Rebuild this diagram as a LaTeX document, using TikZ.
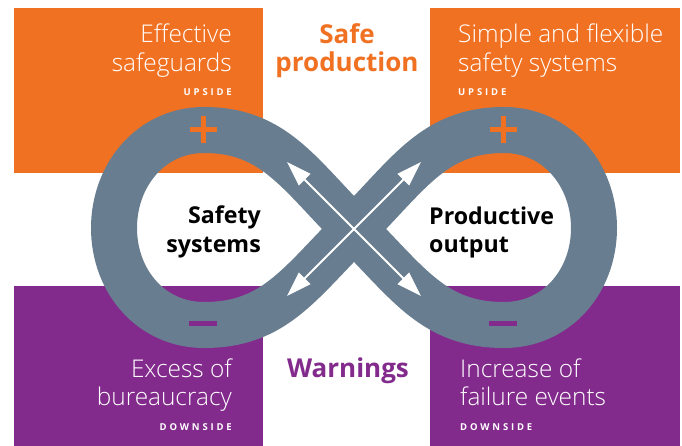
\documentclass[tikz,border=0pt]{standalone}
\usepackage{fontspec}
\setmainfont{Open Sans}
\IfFontExistsTF{Open Sans Light}
  {\newfontfamily\lightfont{Open Sans Light}}
  {\newfontfamily\lightfont{Open Sans}}
\newfontfamily\tagfont[LetterSpace=30]{Open Sans}
\usetikzlibrary{arrows.meta}

\definecolor{upcol}{RGB}{241,113,35}
\definecolor{downcol}{RGB}{131,42,141}
\definecolor{bandcol}{RGB}{104,126,144}

\tikzset{
  boxtext/.style={inner sep=0pt, text=white, font=\lightfont\fontsize{24.4}{29}\selectfont},
  tagtext/.style={inner sep=0pt, text=white, font=\tagfont\bfseries\fontsize{9.5}{11}\selectfont},
  headtext/.style={inner sep=0pt, font=\bfseries\fontsize{26}{30}\selectfont},
  hubtext/.style={inner sep=0pt, text=black, font=\bfseries\fontsize{23.2}{28}\selectfont},
  band/.style={draw=bandcol, line width=46pt, line join=round},
  flow/.style={draw=white, line width=2pt, {Triangle[length=25pt,width=16pt]}-{Triangle[length=25pt,width=16pt]}},
}

\begin{document}
\begin{tikzpicture}[x=1pt,y=-1pt]
  \path[use as bounding box, fill=white] (0,0) rectangle (682,446);

  % coloured quadrants
  \fill[upcol]   (14,8)    rectangle (263,173);
  \fill[upcol]   (430,8)   rectangle (680,173);
  \fill[downcol] (14,286)  rectangle (263,446);
  \fill[downcol] (430,286) rectangle (680,446);

  % figure-eight band
  \path[band] (354,229)
    .. controls (409,174) and (434,130) .. (504,130)
    .. controls (557,130) and (594,175) .. (594,228)
    .. controls (594,281) and (557,325) .. (504,325)
    .. controls (434,325) and (409,284) .. (354,229)
    .. controls (299,174) and (274,130) .. (204,130)
    .. controls (151,130) and (114,175) .. (114,228)
    .. controls (114,281) and (151,325) .. (204,325)
    .. controls (274,325) and (299,284) .. cycle;

  % plus signs
  \fill[upcol] (190,127.5) rectangle (217,132.5);
  \fill[upcol] (201,116) rectangle (206,143);
  \fill[upcol] (490,127.5) rectangle (517,132.5);
  \fill[upcol] (501,116) rectangle (506,143);
  % minus signs
  \fill[downcol] (189,321) rectangle (217,326);
  \fill[downcol] (489,321) rectangle (517,326);

  % crossing arrows
  \coordinate (tl) at (287,162);
  \coordinate (br) at (421,296);
  \coordinate (tr) at (421,162);
  \coordinate (bl) at (287,296);
  \draw[flow] (tl) -- (br);
  \draw[flow] (bl) -- (tr);

  % upper left panel
  \node[boxtext, anchor=base east] (ul1) at (232,43) {Effective};
  \node[boxtext, anchor=base east] (ul2) at (232,72) {safeguards};
  \node[tagtext, anchor=base east] (ul3) at (232,96) {UPSIDE};
  % upper right panel
  \node[boxtext, anchor=base west] (ur1) at (458,43) {Simple and flexible};
  \node[boxtext, anchor=base west] (ur2) at (458,72) {safety systems};
  \node[tagtext, anchor=base west] (ur3) at (458,96) {UPSIDE};
  % lower left panel
  \node[boxtext, anchor=base east] (ll1) at (232,377) {Excess of};
  \node[boxtext, anchor=base east] (ll2) at (232,405) {bureaucracy};
  \node[tagtext, anchor=base east] (ll3) at (232,430) {DOWNSIDE};
  % lower right panel
  \node[boxtext, anchor=base west] (lr1) at (460,377) {Increase of};
  \node[boxtext, anchor=base west] (lr2) at (460,405) {failure events};
  \node[tagtext, anchor=base west] (lr3) at (460,430) {DOWNSIDE};

  % headings
  \node[headtext, text=upcol, anchor=base] (h1) at (347,44) {Safe};
  \node[headtext, text=upcol, anchor=base] (h2) at (347,72) {production};
  \node[headtext, text=downcol, anchor=base] (h3) at (348,377) {Warnings};

  % loop labels
  \node[hubtext, anchor=base east] (s1) at (261,224) {Safety};
  \node[hubtext, anchor=base east] (s2) at (261,253) {systems};
  \node[hubtext, anchor=base west] (p1) at (429,225) {Productive};
  \node[hubtext, anchor=base west] (p2) at (429,253) {output};
\end{tikzpicture}
\end{document}
